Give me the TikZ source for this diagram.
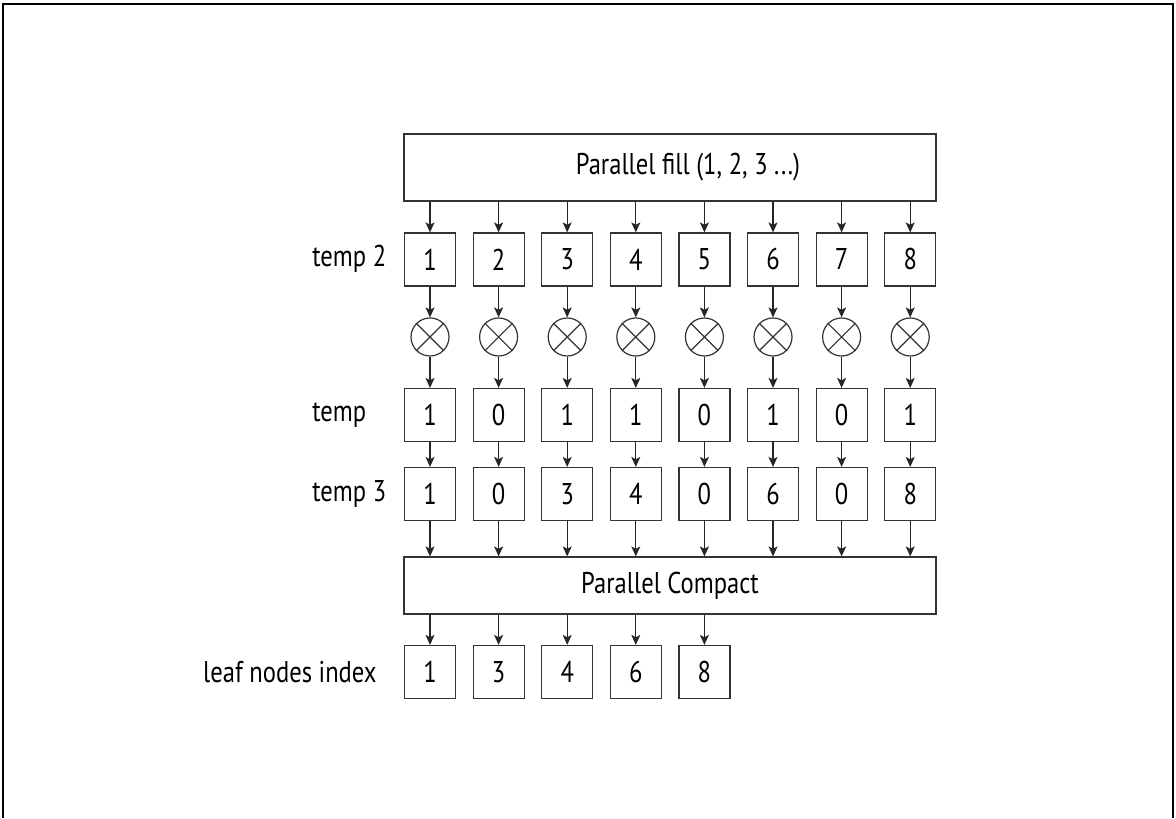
\documentclass[tikz,border=0pt]{standalone}
\usepackage{fontspec}
\setmainfont[FakeStretch=0.82]{PT Sans}
\usetikzlibrary{positioning,arrows.meta}

\begin{document}
\begin{tikzpicture}[
  x=0.5pt, y=0.5pt,
  font=\fontsize{15}{17}\selectfont,
  cell/.style={draw=black!80, line width=0.6pt, minimum width=25.5pt,
               minimum height=26.5pt, inner sep=0pt},
  bar/.style={draw=black!80, line width=0.6pt, minimum width=266pt, inner sep=0pt},
  mult/.style={draw=black!80, line width=0.6pt, circle, minimum size=19pt, inner sep=0pt},
  rowlabel/.style={inner sep=0pt},
  flow/.style={-{Stealth[length=5pt, width=4.5pt, inset=1.2pt]}, line width=0.6pt, black!85},
]
  \useasboundingbox (0,0) rectangle (1176,818);
  % open frame
  \draw[line width=1pt] (3,0) -- (3,813.5) -- (1172.5,813.5) -- (1172.5,0);

  % fill and compact stages
  \node[bar, minimum height=33.5pt] (fill) at (670,650.5) {\hspace*{18pt}Parallel fill (1, 2, 3 ...)};
  \node[bar, minimum height=28.5pt] (compact) at (670,232.5) {Parallel Compact};

  % one column per element
  \foreach \i/\a/\b/\c in {1/1/1/1, 2/2/0/0, 3/3/1/3, 4/4/1/4, 5/5/0/0, 6/6/1/6, 7/7/0/0, 8/8/1/8} {
    \node[cell] (t2\i) at ({430+68.6*(\i-1)},558.5) {\a};
    \node[mult] (m\i) at ({430+68.6*(\i-1)},481) {};
    \draw[black!80, line width=0.6pt] (m\i.45) -- (m\i.225) (m\i.135) -- (m\i.315);
    \node[cell] (t\i) at ({430+68.6*(\i-1)},403) {\b};
    \node[cell] (t3\i) at ({430+68.6*(\i-1)},324) {\c};
    \draw[flow] (t2\i |- fill.south) -- (t2\i);
    \draw[flow] (t2\i) -- (m\i);
    \draw[flow] (m\i) -- (t\i);
    \draw[flow] (t\i) -- (t3\i);
    \draw[flow] (t3\i) -- (t3\i |- compact.north);
  }

  % compacted indices
  \foreach \i/\v in {1/1, 2/3, 3/4, 4/6, 5/8} {
    \node[cell] (l\i) at ({430+68.6*(\i-1)},146) {\v};
    \draw[flow] (l\i |- compact.south) -- (l\i);
  }

  % row names
  \node[rowlabel, anchor=west] (lt2) at (312,559) {temp 2};
  \node[rowlabel, anchor=west] (lt) at (312,403) {temp};
  \node[rowlabel, anchor=west] (lt3) at (312,324) {temp 3};
  \node[rowlabel, anchor=east] (ll) at (377,146) {leaf nodes index};
\end{tikzpicture}
\end{document}
